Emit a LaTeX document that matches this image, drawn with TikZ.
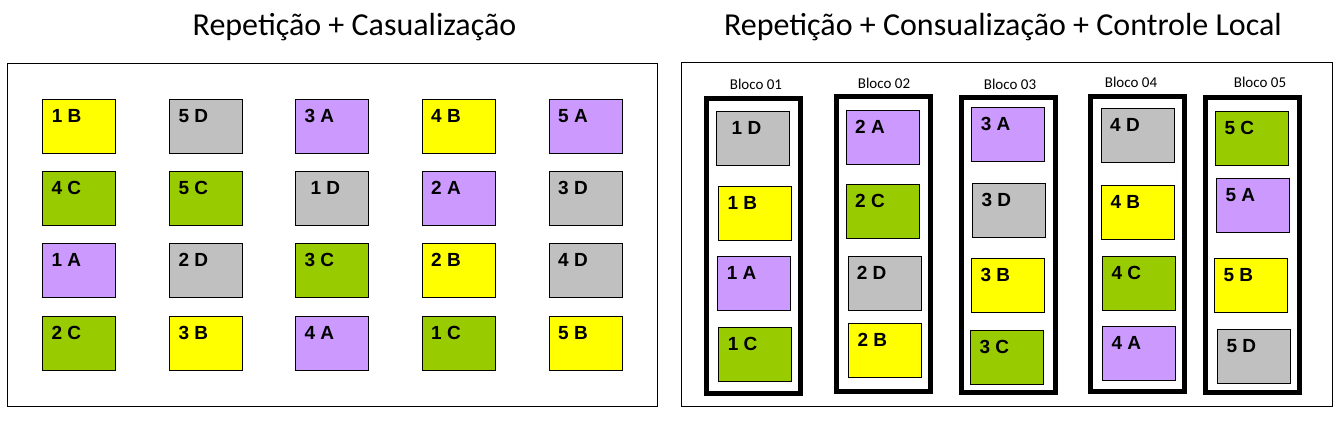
\documentclass[tikz,border=0pt]{standalone}
\usepackage{fontspec}
\setmainfont{Carlito}
\newfontfamily\lblfont{Liberation Sans}
\definecolor{cyel}{HTML}{FFFF00}
\definecolor{cgry}{HTML}{C0C0C0}
\definecolor{cpur}{HTML}{CC99FF}
\definecolor{cgrn}{HTML}{99CC00}
\tikzset{
  cellbox/.style={draw=black, line width=1pt, minimum width=72.5pt, minimum height=54pt, inner sep=0pt, anchor=north west},
  celltxt/.style={anchor=base west, inner sep=0pt, font=\lblfont\fontsize{19}{21}\selectfont\bfseries},
  panel/.style={draw=black, line width=1pt},
  blockframe/.style={draw=black, line width=5pt},
  blocktxt/.style={anchor=base, inner sep=0pt, font=\fontsize{15}{17}\selectfont},
  titletxt/.style={anchor=base, inner sep=0pt, font=\fontsize{32}{34}\selectfont},
}
% #1 name, #2 x, #3 y, #4 colour, #5 label, #6 label x offset
\newcommand{\cellnode}[6]{%
  \node[cellbox, fill=#4] (#1) at (#2,#3) {};
  \node[celltxt] (#1t) at ([shift={(#6pt,-23.5pt)}]#1.north west) {#5};
}
\begin{document}
\begin{tikzpicture}[x=1pt,y=-1pt]
\useasboundingbox (0,0) rectangle (1342,423);
% titles
\node[titletxt] (t1) at (354.5,35) {Repetição + Casualização};
\node[titletxt] (t2) at (1003,35) {Repetição + Consualização + Controle Local};
% panels
\node[panel, minimum width=650.5pt, minimum height=343.5pt, anchor=north west, inner sep=0pt] (p1) at (6.5,62.5) {};
\node[panel, minimum width=651pt, minimum height=343.7pt, anchor=north west, inner sep=0pt] (p2) at (681.3,62.3) {};
% left grid
\cellnode{a11}{42.3}{99.3}{cyel}{1 B}{9.4}
\cellnode{a12}{169.3}{99.3}{cgry}{5 D}{9}
\cellnode{a13}{295.3}{99.3}{cpur}{3 A}{9}
\cellnode{a14}{422}{99.3}{cyel}{4 B}{9}
\cellnode{a15}{549}{99.3}{cpur}{5 A}{9}
\cellnode{a21}{42.3}{171.3}{cgrn}{4 C}{9}
\cellnode{a22}{169.3}{171.3}{cgrn}{5 C}{9}
\cellnode{a23}{295.3}{171.3}{cgry}{1 D}{15}
\cellnode{a24}{422}{171.3}{cpur}{2 A}{9}
\cellnode{a25}{549}{171.3}{cgry}{3 D}{9}
\cellnode{a31}{42.3}{243.3}{cpur}{1 A}{9}
\cellnode{a32}{169.3}{243.3}{cgry}{2 D}{9}
\cellnode{a33}{295.3}{243.3}{cgrn}{3 C}{9}
\cellnode{a34}{422}{243.3}{cyel}{2 B}{9}
\cellnode{a35}{549}{243.3}{cgry}{4 D}{9}
\cellnode{a41}{42.3}{316.3}{cgrn}{2 C}{9}
\cellnode{a42}{169.3}{316.3}{cyel}{3 B}{9}
\cellnode{a43}{295.3}{316.3}{cpur}{4 A}{9}
\cellnode{a44}{422}{316.3}{cgrn}{1 C}{9}
\cellnode{a45}{549}{316.3}{cyel}{5 B}{9}
% block frames
\draw[blockframe] (706.8,98.5) rectangle (800.8,393.8);
\draw[blockframe] (836.8,96.8) rectangle (930.8,391.8);
\draw[blockframe] (961.5,97.8) rectangle (1055.8,392.8);
\draw[blockframe] (1090.8,96.5) rectangle (1184.8,391.8);
\draw[blockframe] (1205.8,97.8) rectangle (1299.8,392.8);
% block labels
\node[blocktxt] (bl1) at (756,89.3) {Bloco 01};
\node[blocktxt] (bl2) at (884,88.7) {Bloco 02};
\node[blocktxt] (bl3) at (1010,89.7) {Bloco 03};
\node[blocktxt] (bl4) at (1131,87.7) {Bloco 04};
\node[blocktxt] (bl5) at (1260,87.7) {Bloco 05};
% block 1
\cellnode{b11}{716}{111.3}{cgry}{1 D}{15.5}
\cellnode{b12}{718.3}{186}{cyel}{1 B}{9}
\cellnode{b13}{717.3}{256.3}{cpur}{1 A}{9.4}
\cellnode{b14}{718.3}{327.3}{cgrn}{1 C}{9.4}
% block 2
\cellnode{b21}{846}{110.3}{cpur}{2 A}{9}
\cellnode{b22}{846}{184.3}{cgrn}{2 C}{9}
\cellnode{b23}{848.3}{256.3}{cgry}{2 D}{8.4}
\cellnode{b24}{848.3}{323.3}{cyel}{2 B}{9}
% block 3
\cellnode{b31}{971.3}{107.3}{cpur}{3 A}{9.4}
\cellnode{b32}{972.3}{183.3}{cgry}{3 D}{9}
\cellnode{b33}{971.3}{258.3}{cyel}{3 B}{9}
\cellnode{b34}{970.3}{330.3}{cgrn}{3 C}{9}
% block 4
\cellnode{b41}{1101.3}{108.3}{cgry}{4 D}{8.7}
\cellnode{b42}{1101.3}{185.3}{cyel}{4 B}{9}
\cellnode{b43}{1102.3}{256.3}{cgrn}{4 C}{9}
\cellnode{b44}{1102.3}{326.3}{cpur}{4 A}{9}
% block 5
\cellnode{b51}{1215.3}{111.3}{cgrn}{5 C}{9}
\cellnode{b52}{1216.3}{178.3}{cpur}{5 A}{9}
\cellnode{b53}{1214.3}{258.3}{cyel}{5 B}{9}
\cellnode{b54}{1217.3}{329.3}{cgry}{5 D}{9}
\end{tikzpicture}
\end{document}
